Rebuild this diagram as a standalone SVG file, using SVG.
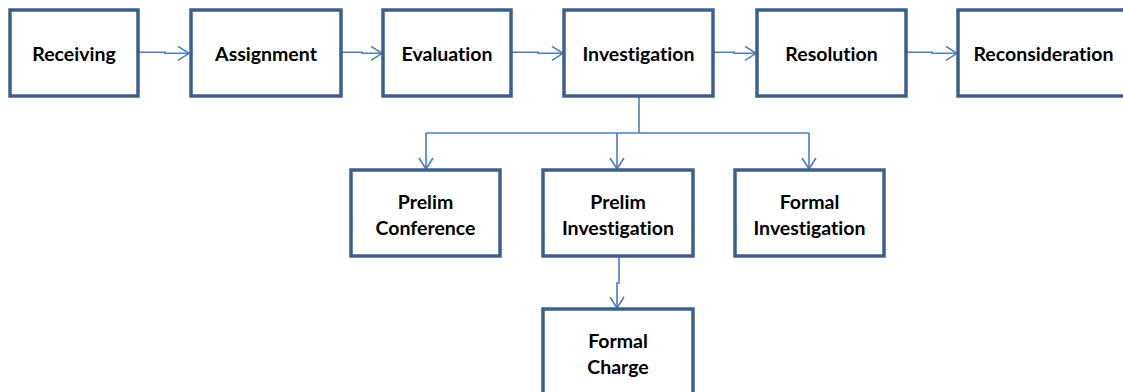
<svg xmlns="http://www.w3.org/2000/svg" width="1123" height="392" viewBox="0 0 1123 392">
  <style>
    .box { fill: #ffffff; stroke: #3c5f8e; stroke-width: 3.5; }
    .lbl { font-family: Lato, "Liberation Sans", sans-serif; font-weight: bold; font-size: 19.5px; fill: #000000; text-anchor: middle; dominant-baseline: central; font-variant-ligatures: none; }
    .link { fill: none; stroke: #4a7ebb; stroke-width: 1.6; }
  </style>
  <defs>
    <marker id="open" markerWidth="14" markerHeight="18" refX="12" refY="8" orient="auto" markerUnits="userSpaceOnUse">
      <path d="M1,1 L12,8 L1,15" fill="none" stroke="#4a7ebb" stroke-width="1.6"/>
    </marker>
  </defs>
  <rect width="1123" height="392" fill="#ffffff"/>

  <g id="connectors">
    <path class="link" marker-end="url(#open)" d="M139,52.3 H165 V53.3 H189"/>
    <path class="link" marker-end="url(#open)" d="M342,52.3 H362 V53.3 H382"/>
    <path class="link" marker-end="url(#open)" d="M512,52.3 H538 V53.3 H563"/>
    <path class="link" marker-end="url(#open)" d="M714,52.3 H734 V53.3 H756"/>
    <path class="link" marker-end="url(#open)" d="M907,52.3 H932 V53.3 H957"/>
    <path class="link" d="M639,97 V133 M426,133 H809"/>
    <path class="link" marker-end="url(#open)" d="M426,133 V169"/>
    <path class="link" marker-end="url(#open)" d="M617,133 V169"/>
    <path class="link" marker-end="url(#open)" d="M809,133 V169"/>
    <path class="link" marker-end="url(#open)" d="M619,257 V283 H617 V308"/>
  </g>

  <g id="receiving">
    <rect class="box" x="10" y="10" width="128" height="86"/>
    <text class="lbl" x="74" y="53">Receiving</text>
  </g>
  <g id="assignment">
    <rect class="box" x="191" y="10" width="150" height="86"/>
    <text class="lbl" x="266" y="53">Assignment</text>
  </g>
  <g id="evaluation">
    <rect class="box" x="383" y="10" width="128" height="86"/>
    <text class="lbl" x="447" y="53">Evaluation</text>
  </g>
  <g id="investigation">
    <rect class="box" x="564" y="10" width="149" height="86"/>
    <text class="lbl" x="638.5" y="53">Investigation</text>
  </g>
  <g id="resolution">
    <rect class="box" x="757" y="10" width="149" height="86"/>
    <text class="lbl" x="831.5" y="53">Resolution</text>
  </g>
  <g id="reconsideration">
    <rect class="box" x="958" y="10" width="180" height="86"/>
    <text class="lbl" x="1043.5" y="53">Reconsideration</text>
  </g>

  <g id="prelim-conference">
    <rect class="box" x="351" y="170" width="149" height="86"/>
    <text class="lbl" x="425.5" y="201">Prelim</text>
    <text class="lbl" x="425.5" y="227">Conference</text>
  </g>
  <g id="prelim-investigation">
    <rect class="box" x="543" y="170" width="150" height="86"/>
    <text class="lbl" x="618" y="201">Prelim</text>
    <text class="lbl" x="618" y="227">Investigation</text>
  </g>
  <g id="formal-investigation">
    <rect class="box" x="735" y="170" width="149" height="86"/>
    <text class="lbl" x="809.5" y="201">Formal</text>
    <text class="lbl" x="809.5" y="227">Investigation</text>
  </g>
  <g id="formal-charge">
    <rect class="box" x="543" y="309" width="150" height="100"/>
    <text class="lbl" x="618" y="340">Formal</text>
    <text class="lbl" x="618" y="366">Charge</text>
  </g>
</svg>
